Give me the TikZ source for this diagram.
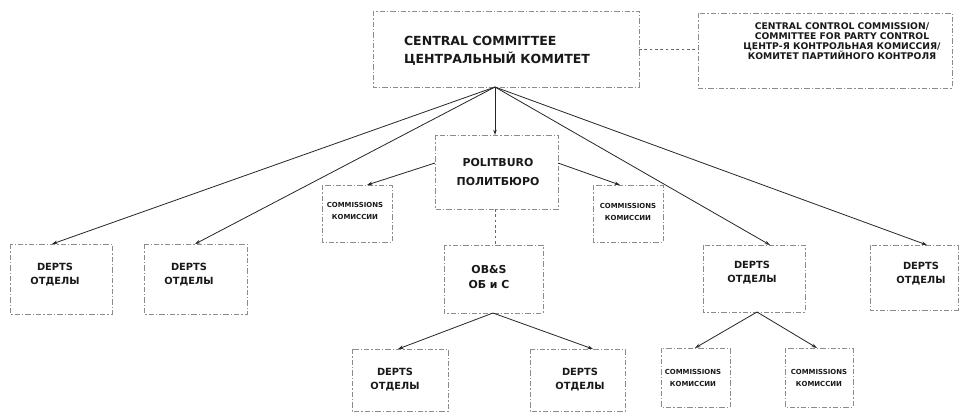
\documentclass[tikz,border=0pt]{standalone}
\usepackage{fontspec}
\setmainfont{DejaVu Sans}
\usetikzlibrary{arrows.meta}
\begin{document}
\begin{tikzpicture}[x=0.75pt,y=-0.75pt,
  boxst/.style={draw=black!45, line width=0.45pt, dash pattern=on 4pt off 1.5pt on 1pt off 1.5pt},
  conn/.style={draw=black!85, line width=0.6pt, -{Stealth[length=4pt,width=2.6pt]}},
  dconn/.style={draw=black!60, line width=0.5pt, dash pattern=on 2pt off 2pt},
  txt/.style={font=\bfseries, text=black!90, align=center, inner sep=0pt},
  big/.style={txt, font=\bfseries\fontsize{9.4}{13.5}\selectfont},
  ccc/.style={txt, font=\bfseries\fontsize{6.9}{7.6}\selectfont},
  mid/.style={txt, font=\bfseries\fontsize{8.2}{13.8}\selectfont},
  dep/.style={txt, font=\bfseries\fontsize{7.4}{10.5}\selectfont},
  sml/.style={txt, font=\bfseries\fontsize{5.2}{9.5}\selectfont}
]
\useasboundingbox (0,0) rectangle (960,415);
\fill[white] (0,0) rectangle (960,415);

% boxes
\draw[boxst] (373,11) rectangle (639,87);
\draw[boxst] (698,13) rectangle (952,88);
\draw[boxst] (435,135) rectangle (558,209);
\draw[boxst] (322,185) rectangle (392,242);
\draw[boxst] (593,185) rectangle (663,242);
\draw[boxst] (10,244) rectangle (112,314);
\draw[boxst] (144,244) rectangle (247,314);
\draw[boxst] (444,245) rectangle (543,313);
\draw[boxst] (703,245) rectangle (805,312);
\draw[boxst] (870,245) rectangle (958,310);
\draw[boxst] (352,349) rectangle (448,411);
\draw[boxst] (530,349) rectangle (625,411);
\draw[boxst] (661,348) rectangle (730,407);
\draw[boxst] (785,348) rectangle (853,407);

% texts
\node[big, align=left] (cc) at (497,51) {CENTRAL COMMITTEE\\ЦЕНТРАЛЬНЫЙ КОМИТЕТ};
\node[ccc] (cccom) at (842,41) {CENTRAL CONTROL COMMISSION/\\COMMITTEE FOR PARTY CONTROL\\ЦЕНТР-Я КОНТРОЛЬНАЯ КОМИССИЯ/\\КОМИТЕТ ПАРТИЙНОГО КОНТРОЛЯ};
\node[mid] (pb) at (498,172) {POLITBURO\\ПОЛИТБЮРО};
\node[sml] (coml) at (355,211) {COMMISSIONS\\КОМИССИИ};
\node[sml] (comr) at (628,212) {COMMISSIONS\\КОМИССИИ};
\node[dep] (d1) at (55,275) {DEPTS\\ОТДЕЛЫ};
\node[dep] (d2) at (189,275) {DEPTS\\ОТДЕЛЫ};
\node[mid, font=\bfseries\fontsize{8.2}{11.2}\selectfont] (obs) at (489,277) {OB\&S\\ОБ и С};
\node[dep] (d5) at (752,273) {DEPTS\\ОТДЕЛЫ};
\node[dep] (d6) at (921,274) {DEPTS\\ОТДЕЛЫ};
\node[dep] (d3) at (395,380) {DEPTS\\ОТДЕЛЫ};
\node[dep] (d4) at (580,380) {DEPTS\\ОТДЕЛЫ};
\node[sml, font=\bfseries\fontsize{5.2}{9}\selectfont] (cb1) at (693,378) {COMMISSIONS\\КОМИССИИ};
\node[sml, font=\bfseries\fontsize{5.2}{9}\selectfont] (cb2) at (819,378) {COMMISSIONS\\КОМИССИИ};

% attach points
\coordinate (ccS) at (495,87);
\coordinate (ccE) at (639,49);
\coordinate (cccW) at (698,49);
\coordinate (pbN) at (495,135);
\coordinate (pbS) at (495,209);
\coordinate (pbW) at (435,163);
\coordinate (pbE) at (558,163);
\coordinate (comlN) at (367,185);
\coordinate (comrN) at (620,185);
\coordinate (d1N) at (52,244);
\coordinate (d2N) at (195,244);
\coordinate (d5N) at (770,245);
\coordinate (d6N) at (927,245);
\coordinate (obsN) at (495,245);
\coordinate (obsS) at (493,313);
\coordinate (d3N) at (398,349);
\coordinate (d4N) at (593,349);
\coordinate (d5S) at (757,312);
\coordinate (cb1N) at (695,348);
\coordinate (cb2N) at (817,348);

% connectors
\draw[dconn] (ccE) -- (cccW);
\draw[conn] (ccS) -- (pbN);
\draw[conn] (ccS) -- (d1N);
\draw[conn] (ccS) -- (d2N);
\draw[conn] (ccS) -- (d5N);
\draw[conn] (ccS) -- (d6N);
\draw[conn] (pbW) -- (comlN);
\draw[conn] (pbE) -- (comrN);
\draw[dconn] (pbS) -- (obsN);
\draw[conn] (obsS) -- (d3N);
\draw[conn] (obsS) -- (d4N);
\draw[conn] (d5S) -- (cb1N);
\draw[conn] (d5S) -- (cb2N);
\end{tikzpicture}
\end{document}
